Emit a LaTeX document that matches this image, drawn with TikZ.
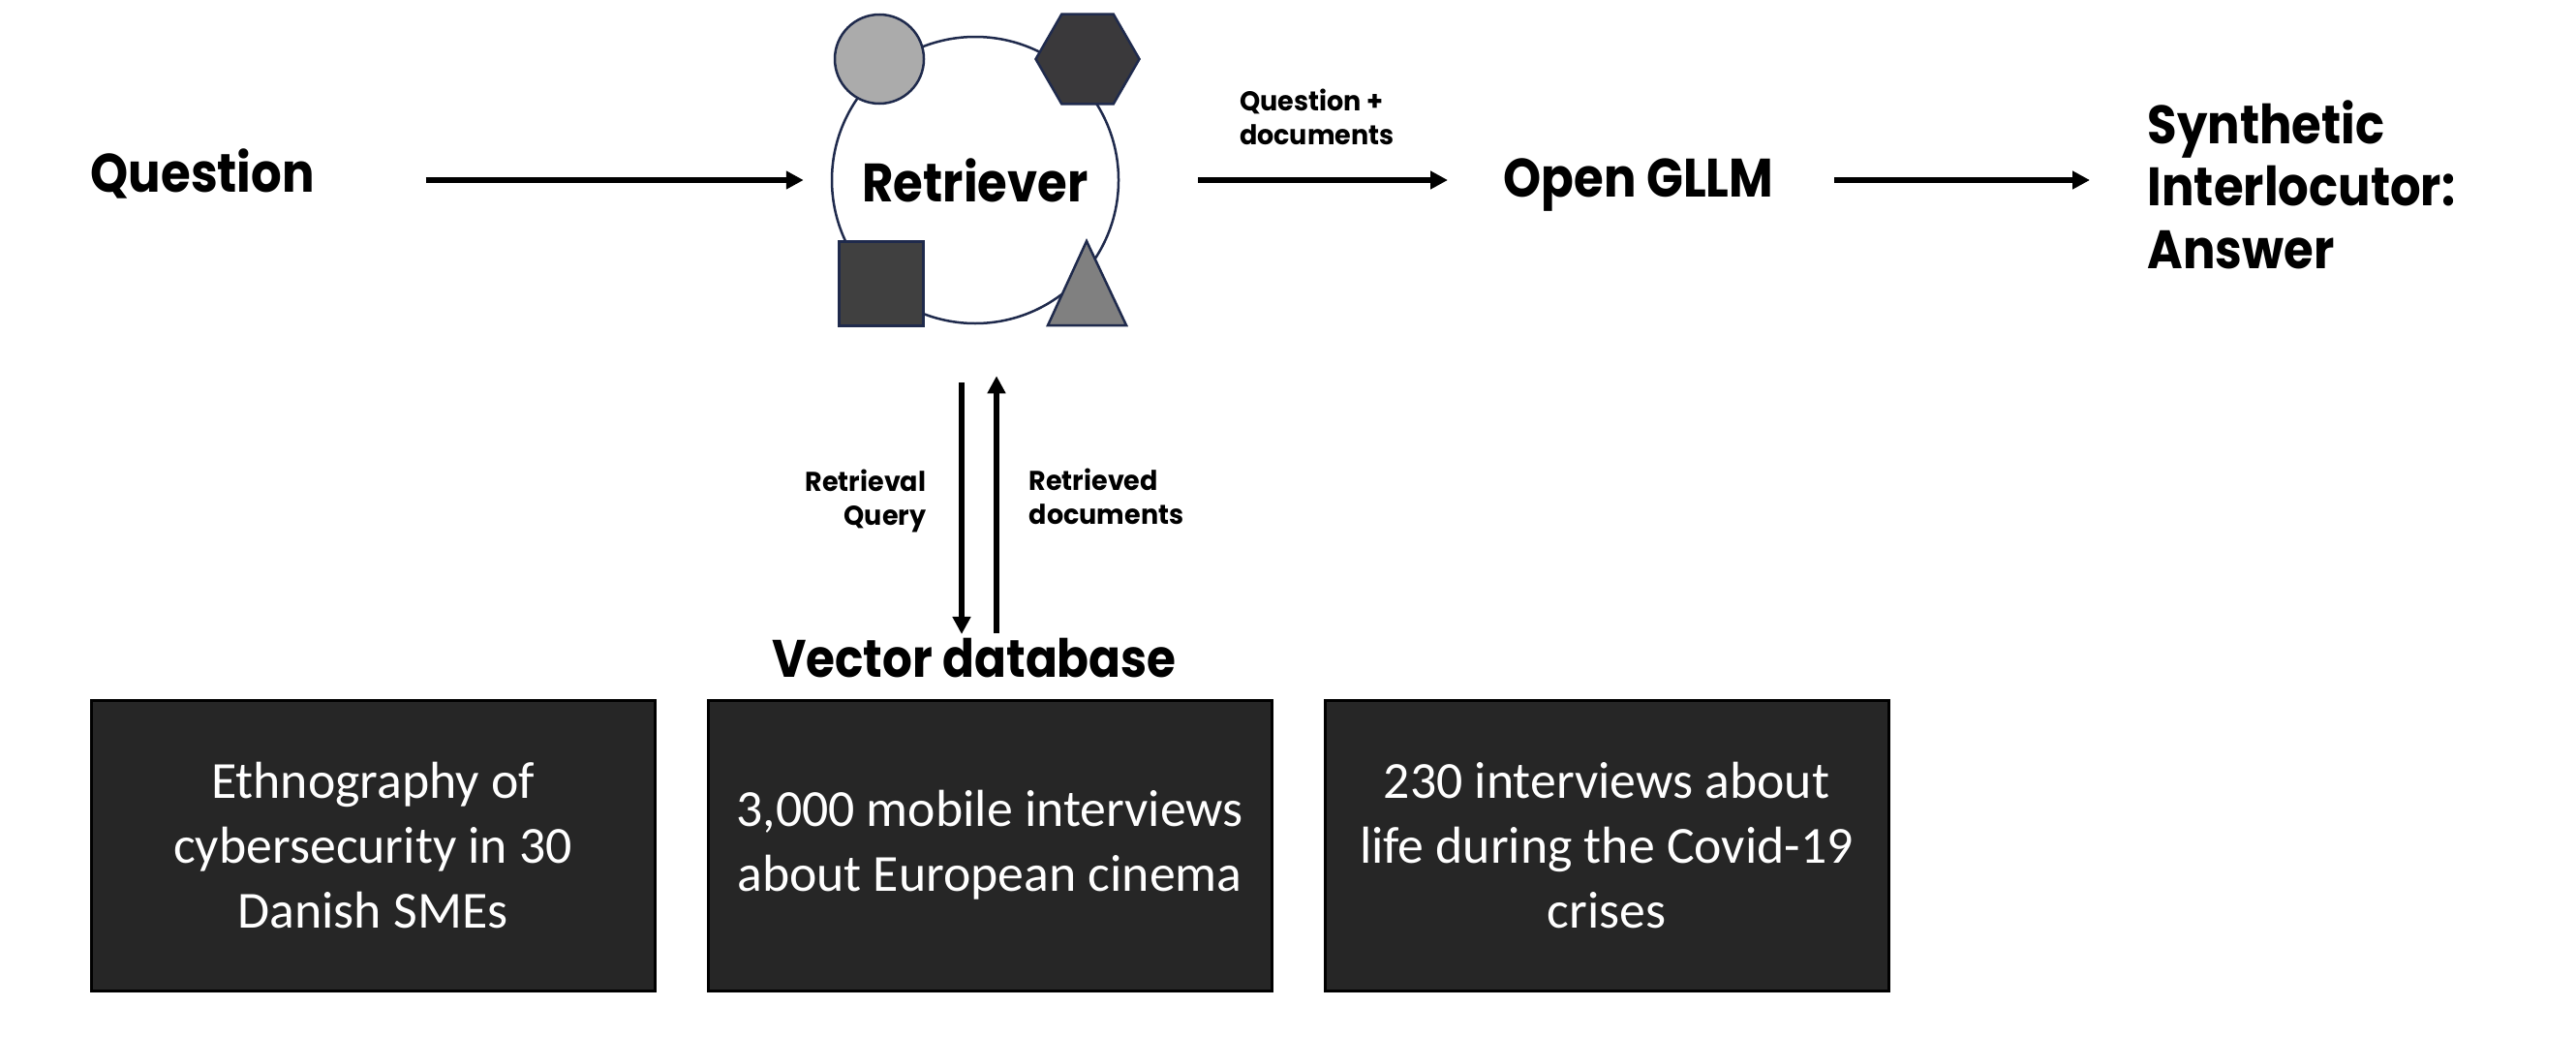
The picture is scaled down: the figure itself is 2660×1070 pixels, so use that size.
\documentclass[tikz,border=0pt]{standalone}
\usepackage{fontspec}
\newfontfamily\headfont{Poppins}[FakeStretch=0.89]
\newfontfamily\lblfont{Poppins}[FakeStretch=0.96]
\newfontfamily\bodyfont{Carlito}
\usetikzlibrary{arrows.meta, positioning, shapes.geometric}
\definecolor{navy}{HTML}{1F2A4C}
\definecolor{ballgray}{HTML}{ABABAB}
\definecolor{hexgray}{HTML}{3A393B}
\definecolor{cubegray}{HTML}{404040}
\definecolor{trigray}{HTML}{808080}
\definecolor{boxgray}{HTML}{262626}

\begin{document}
\begin{tikzpicture}[x=0.1mm, y=-0.1mm,
	node distance=5.2mm and 5.2mm,
	head/.style = {font=\headfont\bfseries\fontsize{15.9}{18.3}\selectfont, inner sep=0pt, align=left},
	dbtitle/.style = {font=\headfont\bfseries\fontsize{15.5}{18}\selectfont, inner sep=0pt},
	lbl/.style = {font=\lblfont\bfseries\fontsize{8}{9.9}\selectfont, inner sep=0pt},
	part/.style = {draw=navy, line width=0.25mm, inner sep=0pt},
	dbbox/.style = {draw=black, line width=0.3mm, fill=boxgray, text=white,
		minimum width=58.2mm, minimum height=30mm, align=center,
		font=\bodyfont\fontsize{15.3}{19}\selectfont},
	arr/.style = {line width=0.55mm, -{Triangle[length=1.8mm, width=1.8mm]}},
	sx+/.style = {xshift= 6.2mm},
	sx-/.style = {xshift=-5.7mm}
	]
	\useasboundingbox[fill=white] (0,0) rectangle (2660,1070);
%
	\node[head, anchor=base west] (question) at (93,198) {Question};
	\node[part, circle, minimum size=29.6mm, head, align=center] (retriever) at (1007,186) {Retriever};
	\node[head, anchor=base west] (gllm) at (1552,203) {Open GLLM};
	\node[head, anchor=base west] (answer) at (2217,277) {Synthetic\\Interlocutor:\\Answer};
%
	\node[part, circle, minimum size=9.2mm, fill=ballgray] (ball) at (908,61) {};
	\node[part, regular polygon, regular polygon sides=6, minimum size=10.7mm, fill=hexgray] (hexa) at (1123,61) {};
	\node[part, rectangle, minimum size=8.7mm, fill=cubegray] (cube) at (910,293) {};
	\draw[part, fill=trigray] (1082,336) -- (1122,249) -- (1163,336) -- cycle;
%
	\draw[arr]
	([xshift=11.4mm] question.east |- retriever.west) -- ([xshift=-2.8mm] retriever.west);
%
	\draw[arr]
	([xshift=8.1mm] retriever.east) -- ([sx-] retriever.east -| gllm.west)
	node[lbl, align=left, anchor=south west, pos=0, xshift=4mm, yshift=3.4mm] {Question +\\documents};
%
	\draw[arr]
	([sx+] gllm.east |- retriever.east) -- ([xshift=-5.9mm] retriever.east -| answer.west);
%
	\node[dbtitle, anchor=base] (vecdb) at (1006,699) {Vector database};
%
	\draw[arr]
	([xshift=-1.4mm, yshift=-6mm] retriever.south) -- ([xshift=-1.4mm, yshift=0.3mm] retriever.south |- vecdb.north)
	node[lbl, align=right, left=3.4mm, pos=0.47] {Retrieval\\Query};
%
	\draw[arr]
	([xshift=2.2mm, yshift=0.4mm] retriever.south |- vecdb.north) -- ([xshift=2.2mm, yshift=-5.3mm] retriever.south)
	node[lbl, align=left, right=3.1mm, pos=0.53] {Retrieved\\documents};
%
	\node[dbbox] (ethno) at (385,873) {Ethnography of\\cybersecurity in 30\\Danish SMEs};
	\node[dbbox, right=of ethno] (cinema) {3,000 mobile interviews\\about European cinema};
	\node[dbbox, right=of cinema] (covid) {230 interviews about\\life during the Covid-19\\crises};
\end{tikzpicture}
\end{document}
